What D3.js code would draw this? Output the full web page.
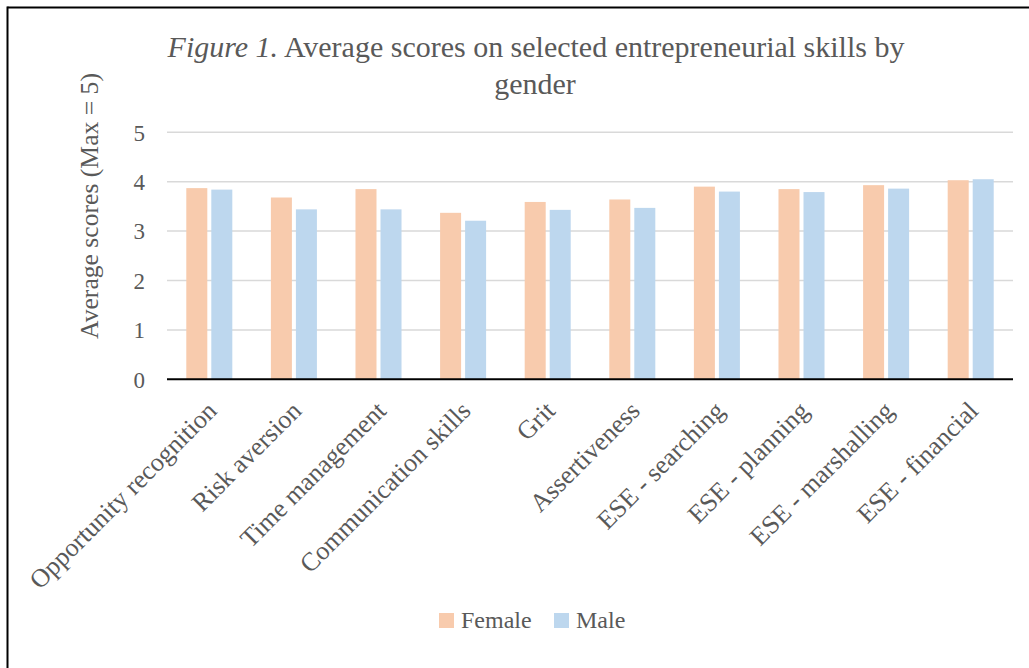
<!DOCTYPE html>
<html>
<head>
<meta charset="utf-8">
<script src="https://cdn.jsdelivr.net/npm/d3@7"></script>
<style>
  html, body { margin: 0; padding: 0; background: #fff; }
  svg { display: block; }
  text { font-family: "Liberation Serif", "DejaVu Serif", serif; fill: #595959; }
</style>
</head>
<body>
<svg id="chart" width="1029" height="668"></svg>
<script>
// Skill categories on the x axis
const categories = [
  "Opportunity recognition", "Risk aversion", "Time management",
  "Communication skills", "Grit", "Assertiveness",
  "ESE - searching", "ESE - planning", "ESE - marshalling", "ESE - financial"
];
// Average scores per category
const femaleScores = [3.87, 3.68, 3.85, 3.37, 3.59, 3.64, 3.90, 3.85, 3.93, 4.03];
const maleScores   = [3.84, 3.44, 3.44, 3.21, 3.43, 3.47, 3.80, 3.79, 3.86, 4.05];
const seriesNames  = ["Female", "Male"];
const yTicks       = [0, 1, 2, 3, 4, 5];

const seriesColor = { Female: "#F8CBAD", Male: "#BDD7EE" };
const rows = categories.map((c, i) => ({ category: c, Female: femaleScores[i], Male: maleScores[i] }));

const svg = d3.select("#chart");
const plot = { left: 167, right: 1013, top: 132.3, bottom: 379.3 };

// Frame around the figure (top and left rules)
svg.append("line").attr("x1", 7.5).attr("x2", 1029).attr("y1", 7.5).attr("y2", 7.5)
  .attr("stroke", "#000").attr("stroke-width", 2);
svg.append("line").attr("x1", 7.5).attr("x2", 7.5).attr("y1", 6.5).attr("y2", 668)
  .attr("stroke", "#000").attr("stroke-width", 2);

// Shrink/grow a text element's font so it spans a given width
function fitWidth(sel, target, base) {
  sel.style("font-size", base + "px");
  const w = sel.node().getComputedTextLength();
  sel.style("font-size", (base * target / w).toFixed(2) + "px");
}

const x0 = d3.scaleBand().domain(categories).range([plot.left, plot.right])
  .paddingInner(0.456).paddingOuter(0.228);
const x1 = d3.scaleBand().domain(seriesNames).range([0, x0.bandwidth()]).paddingInner(0.16);
const y = d3.scaleLinear().domain([0, 5]).range([plot.bottom, plot.top]);

// Gridlines
svg.append("g").selectAll("line").data(yTicks.filter(t => t > 0)).join("line")
  .attr("x1", plot.left).attr("x2", plot.right)
  .attr("y1", d => y(d)).attr("y2", d => y(d))
  .attr("stroke", "#d9d9d9").attr("stroke-width", 1.5);

// Y axis tick labels
const yAxis = d3.axisLeft(y).tickValues(yTicks).tickSize(0).tickPadding(0).tickFormat(d3.format("d"));
const yg = svg.append("g").attr("transform", "translate(145,0)").call(yAxis);
yg.select(".domain").remove();
yg.selectAll("text").style("font-size", "23px").style("font-family", null).attr("fill", "#595959").attr("dy", "0.34em");

// Bars
svg.append("g").selectAll("g").data(rows).join("g")
  .attr("transform", d => `translate(${x0(d.category)},0)`)
  .selectAll("rect").data(d => seriesNames.map(k => ({ key: k, value: d[k] }))).join("rect")
  .attr("x", d => x1(d.key)).attr("width", x1.bandwidth())
  .attr("y", d => y(d.value)).attr("height", d => y(0) - y(d.value))
  .attr("fill", d => seriesColor[d.key]);

// Category axis line and rotated labels
const xAxis = d3.axisBottom(x0).tickSize(0).tickPadding(0);
const xg = svg.append("g").attr("transform", `translate(0,${plot.bottom})`).call(xAxis);
xg.select(".domain").attr("stroke", "#000").attr("stroke-width", 2)
  .attr("d", `M${plot.left},0H${plot.right}`);
xg.selectAll(".tick text")
  .style("font-family", null).style("font-size", "26px").attr("fill", "#595959")
  .attr("text-anchor", "end").attr("dy", null).attr("y", 0)
  .attr("transform", "translate(9,33) rotate(-45)");

// Y axis title
svg.append("text")
  .attr("transform", "translate(98,206) rotate(-90)")
  .attr("text-anchor", "middle")
  .style("font-size", "24px")
  .text("Average scores (Max = 5)")
  .call(s => fitWidth(s, 266, 24));

// Title
const t1 = svg.append("text").attr("x", 536).attr("y", 57).attr("text-anchor", "middle");
t1.append("tspan").style("font-style", "italic").text("Figure 1.");
t1.append("tspan").text(" Average scores on selected entrepreneurial skills by");
fitWidth(t1, 737, 28);
svg.append("text").attr("x", 535).attr("y", 94).attr("text-anchor", "middle")
  .style("font-size", t1.style("font-size")).text("gender");

// Legend
const legend = svg.append("g");
const legendPos = { Female: 439, Male: 554 };
seriesNames.forEach(k => {
  legend.append("rect").attr("x", legendPos[k]).attr("y", 613).attr("width", 15).attr("height", 15)
    .attr("fill", seriesColor[k]);
  legend.append("text").attr("x", legendPos[k] + 22).attr("y", 628)
    .style("font-size", "24px").text(k);
});
</script>
</body>
</html>
